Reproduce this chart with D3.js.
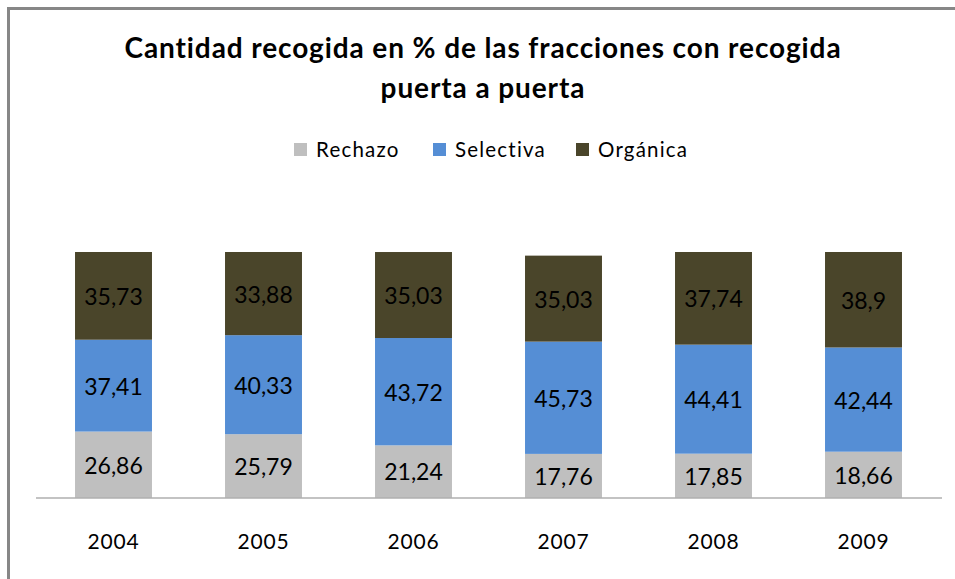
<!DOCTYPE html>
<html>
<head>
<meta charset="utf-8">
<script src="https://cdn.jsdelivr.net/npm/d3@7"></script>
<style>
  body { margin: 0; background: #fff; }
  svg { display: block; font-family: Lato, "Open Sans", sans-serif; }
</style>
</head>
<body>
<div id="chart"></div>
<script>
// data
const years = ["2004", "2005", "2006", "2007", "2008", "2009"];
const rechazo = [26.86, 25.79, 21.24, 17.76, 17.85, 18.66];
const selectiva = [37.41, 40.33, 43.72, 45.73, 44.41, 42.44];
const organica = [35.73, 33.88, 35.03, 35.03, 37.74, 38.9];
const seriesNames = ["Rechazo", "Selectiva", "Orgánica"];
const titleLines = ["Cantidad recogida en % de las fracciones con recogida", "puerta a puerta"];

const width = 955, height = 579;
const colors = ["#BFBFBF", "#558ED5", "#4A452A"];

const svg = d3.select("#chart").append("svg")
  .attr("width", width)
  .attr("height", height);

// chart border (right/bottom run off the picture)
svg.append("rect")
  .attr("x", 8.5).attr("y", 8.5)
  .attr("width", 1000).attr("height", 1000)
  .attr("fill", "none")
  .attr("stroke", "#878787")
  .attr("stroke-width", 3);

// title
svg.append("g")
  .selectAll("text")
  .data(titleLines)
  .enter()
  .append("text")
  .attr("x", 483)
  .attr("y", (d, i) => 58 + i * 40)
  .attr("text-anchor", "middle")
  .attr("font-size", "28px")
  .attr("font-weight", "bold")
  .attr("letter-spacing", "0.9px")
  .attr("fill", "#000")
  .text(d => d);

const table = years.map((y, i) => ({
  year: y, Rechazo: rechazo[i], "Selectiva": selectiva[i], "Orgánica": organica[i]
}));

const x = d3.scaleBand()
  .domain(years)
  .range([38.5, 938.5])
  .paddingInner(0.487)
  .paddingOuter(0.2435);

const y = d3.scaleLinear()
  .domain([0, 100])
  .range([497.5, 252]);

const color = d3.scaleOrdinal().domain(seriesNames).range(colors);

const stacked = d3.stack().keys(seriesNames)(table);

const layers = svg.selectAll("g.layer")
  .data(stacked)
  .enter()
  .append("g")
  .attr("class", "layer")
  .attr("fill", d => color(d.key));

layers.selectAll("rect")
  .data(d => d)
  .enter()
  .append("rect")
  .attr("x", d => x(d.data.year))
  .attr("y", d => y(d[1]))
  .attr("width", x.bandwidth())
  .attr("height", d => y(d[0]) - y(d[1]));

// value labels
layers.selectAll("text")
  .data(d => d)
  .enter()
  .append("text")
  .attr("x", d => x(d.data.year) + x.bandwidth() / 2)
  .attr("y", d => (y(d[0]) + y(d[1])) / 2 + 9)
  .attr("text-anchor", "middle")
  .attr("font-size", "23px")
  .attr("fill", "#000")
  .text(d => String(+(d[1] - d[0]).toFixed(2)).replace(".", ","));

// x axis
const xAxis = svg.append("g")
  .attr("transform", `translate(0, ${y(0)})`)
  .call(d3.axisBottom(x).tickSize(0).tickPadding(36));
xAxis.select(".domain")
  .attr("d", "M36,0.5H942")
  .attr("stroke", "#878787");
xAxis.selectAll("text")
  .attr("dy", null)
  .attr("y", 51.5)
  .attr("font-size", "21px")
  .attr("letter-spacing", "0.8px")
  .attr("font-family", "Lato, sans-serif")
  .attr("fill", "#000");

// legend
const legendX = [294, 433, 576];
const legend = svg.append("g");
const item = legend.selectAll("g")
  .data(seriesNames)
  .enter()
  .append("g")
  .attr("transform", (d, i) => `translate(${legendX[i]}, 143)`);
item.append("rect")
  .attr("width", 13).attr("height", 13)
  .attr("fill", d => color(d));
item.append("text")
  .attr("x", 22)
  .attr("y", 14)
  .attr("font-size", "20.5px")
  .attr("letter-spacing", "1.2px")
  .attr("fill", "#000")
  .text(d => d);
</script>
</body>
</html>
